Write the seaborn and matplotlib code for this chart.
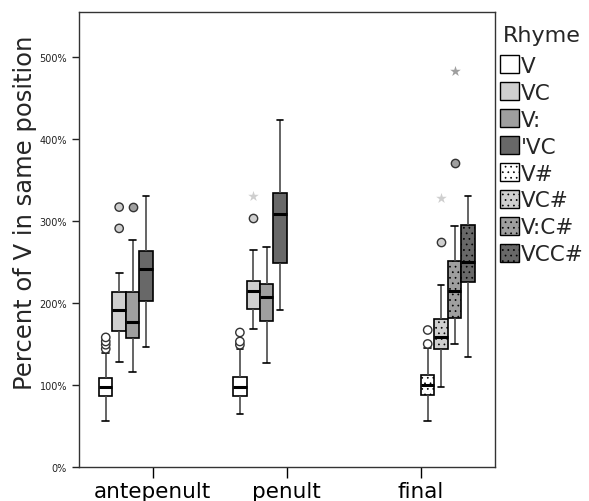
import matplotlib
matplotlib.use("Agg")
import matplotlib.pyplot as plt
from matplotlib.patches import Patch
import pandas as pd
import seaborn as sns

# syllable positions and rhyme types
positions = ["antepenult", "penult", "final"]
rhymes = ["V", "VC", "V:", "'VC", "V#", "VC#", "V:C#", "VCC#"]
rhyme_colors = ["#ffffff", "#cfcfcf", "#9f9f9f", "#686868",
                "#ffffff", "#cfcfcf", "#9f9f9f", "#686868"]

# one entry per box, values in percent
box_position = ["antepenult"] * 4 + ["penult"] * 4 + ["final"] * 4
box_rhyme = ["V", "VC", "V:", "'VC", "V", "VC", "V:", "'VC", "V#", "VC#", "V:C#", "VCC#"]
whisker_low = [56, 128, 116, 146, 65, 168, 127, 191, 56, 98, 150, 134]
q1 = [87, 166, 157, 202, 87, 193, 178, 249, 88, 144, 182, 226]
median = [98, 192, 177, 241, 98, 214, 207, 309, 100, 158, 214, 250]
q3 = [109, 213, 213, 263, 110, 227, 223, 334, 112, 180, 251, 295]
whisker_high = [139, 236, 277, 331, 144, 265, 268, 423, 145, 222, 294, 331]
outliers = [[144, 149, 153, 158], [291, 317], [317], [],
            [149, 153, 164], [304], [], [],
            [150, 167], [274], [371], []]
extremes = [[], [], [], [],
            [], [330], [], [],
            [], [328], [483], []]


def sample_from_summary(lo, q_1, med, q_3, hi, extra):
    """Sorted sample whose quartiles / whisker ends equal the given summary."""
    m = len(extra) + 1
    return ([lo] + [q_1] * m + [med] * m + [q_3] * m
            + [hi] * (m - len(extra)) + sorted(extra))


rows = []
for i, (pos, rh) in enumerate(zip(box_position, box_rhyme)):
    vals = sample_from_summary(whisker_low[i], q1[i], median[i], q3[i],
                               whisker_high[i], outliers[i] + extremes[i])
    rows += [{"position": pos, "rhyme": rh, "value": v} for v in vals]
df = pd.DataFrame(rows)

out_df = pd.DataFrame([{"position": p, "rhyme": r, "value": v}
                       for p, r, vs in zip(box_position, box_rhyme, outliers) for v in vs])
ext_df = pd.DataFrame([{"position": p, "rhyme": r, "value": v}
                       for p, r, vs in zip(box_position, box_rhyme, extremes) for v in vs])

palette = dict(zip(rhymes, rhyme_colors))
dots = "..."

sns.set_style("ticks")
plt.rcParams["font.family"] = ["DejaVu Sans"]
plt.rcParams["hatch.linewidth"] = 0.5

fig = plt.figure(figsize=(5.89, 5.02), dpi=100)
ax = fig.add_axes([0.134, 0.068, 0.706, 0.906])

sns.boxplot(data=df, x="position", y="value", hue="rhyme", order=positions,
            hue_order=rhymes, palette=palette, width=0.8, gap=0, dodge=True,
            showfliers=False, linecolor="black", linewidth=1.2, saturation=1,
            medianprops={"linewidth": 2.2, "color": "black"},
            whiskerprops={"color": "#4a4a4a", "linewidth": 1.2},
            legend=False, ax=ax)

# dotted fill for word-final rhymes (right half of each group)
for patch in ax.patches:
    ext = patch.get_path().get_extents(patch.get_transform() - ax.transData)
    cx = (ext.x0 + ext.x1) / 2
    if cx - round(cx) > 0:
        patch.set_hatch(dots)

sns.stripplot(data=out_df, x="position", y="value", hue="rhyme", order=positions,
              hue_order=rhymes, palette=palette, dodge=True, jitter=False,
              marker="o", size=6, linewidth=1, edgecolor="#333333",
              legend=False, ax=ax)
sns.stripplot(data=ext_df, x="position", y="value", hue="rhyme", order=positions,
              hue_order=rhymes, palette=palette, dodge=True, jitter=False,
              marker="*", size=8, linewidth=0, legend=False, ax=ax)

ax.set_xlim(-0.55, 2.55)
ax.set_ylim(0, 555)
ax.set_yticks([0, 100, 200, 300, 400, 500])
ax.set_yticklabels(["0%", "100%", "200%", "300%", "400%", "500%"])
ax.tick_params(axis="y", labelsize=7, length=5, width=1, colors="#222222")
ax.tick_params(axis="x", labelsize=15.5, length=8, width=1, colors="black", pad=2)
ax.set_xlabel("")
ax.set_ylabel("Percent of V in same position", fontsize=17.5)
ax.yaxis.set_label_coords(-0.1, 0.56)
for sp in ax.spines.values():
    sp.set_visible(True)
    sp.set_color("#333333")
    sp.set_linewidth(1)

handles = [Patch(facecolor=palette[r], edgecolor="black",
                 hatch=dots if "#" in r else None, label=r) for r in rhymes]
fig.text(503 / 589, 1 - 36 / 502, "Rhyme", fontsize=16, ha="left", va="center")
leg = ax.legend(handles=handles, loc="upper left",
                bbox_to_anchor=(1.012, 0.905), frameon=False, fontsize=15.5,
                handlelength=0.9, handleheight=0.92,
                handletextpad=0.1, labelspacing=0.3, borderaxespad=0,
                borderpad=0)

fig.savefig("out.png", dpi=100)
